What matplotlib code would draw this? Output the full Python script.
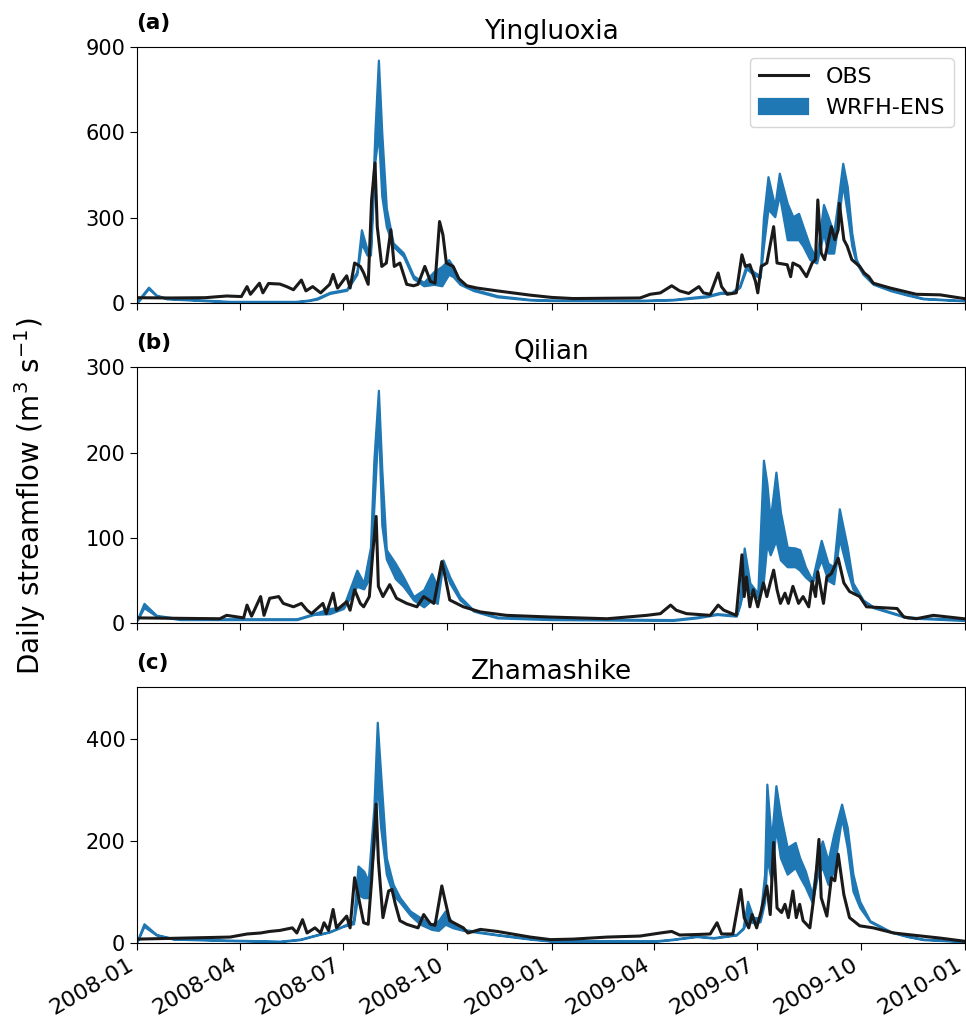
import numpy as np
import pandas as pd
import matplotlib
matplotlib.use("Agg")
import matplotlib.pyplot as plt
import matplotlib.dates as mdates

# ---------------- Yingluoxia ----------------
yl_obs_dates = ["2008-01-01", "2008-01-31", "2008-03-01", "2008-03-20", "2008-04-02", "2008-04-07",
                "2008-04-10", "2008-04-18", "2008-04-21", "2008-04-26", "2008-05-06", "2008-05-12",
                "2008-05-18", "2008-05-25", "2008-05-29", "2008-06-04", "2008-06-11", "2008-06-19",
                "2008-06-22", "2008-06-26", "2008-07-04", "2008-07-07", "2008-07-11", "2008-07-16",
                "2008-07-19", "2008-07-23", "2008-07-26", "2008-07-29", "2008-07-31", "2008-08-04",
                "2008-08-08", "2008-08-12", "2008-08-15", "2008-08-20", "2008-08-26", "2008-09-01",
                "2008-09-05", "2008-09-11", "2008-09-16", "2008-09-20", "2008-09-24", "2008-09-27",
                "2008-09-30", "2008-10-06", "2008-10-11", "2008-10-18", "2008-10-27", "2008-11-14",
                "2008-12-13", "2009-01-01", "2009-01-20", "2009-03-20", "2009-03-29", "2009-04-07",
                "2009-04-17", "2009-04-24", "2009-05-02", "2009-05-11", "2009-05-15", "2009-05-21",
                "2009-05-28", "2009-05-31", "2009-06-05", "2009-06-13", "2009-06-18", "2009-06-21",
                "2009-06-25", "2009-06-30", "2009-07-02", "2009-07-05", "2009-07-10", "2009-07-16",
                "2009-07-19", "2009-07-28", "2009-07-31", "2009-08-02", "2009-08-08", "2009-08-14",
                "2009-08-19", "2009-08-22", "2009-08-24", "2009-08-27", "2009-08-30", "2009-09-02",
                "2009-09-05", "2009-09-08", "2009-09-11", "2009-09-12", "2009-09-16", "2009-09-19",
                "2009-09-23", "2009-09-30", "2009-10-04", "2009-10-08", "2009-10-12", "2009-10-27",
                "2009-11-19", "2009-12-10", "2009-12-31"]
yl_obs = [18, 17, 18, 24, 22, 57, 30, 69, 35, 68, 66, 57, 46, 80, 42, 57, 35, 65, 100, 52, 95, 52,
          140, 128, 105, 65, 362, 492, 268, 128, 140, 257, 128, 140, 65, 60, 65, 128, 75, 69, 286,
          239, 140, 128, 85, 60, 52, 42, 27, 19, 15, 17, 30, 35, 60, 42, 33, 57, 35, 30, 105, 57,
          30, 35, 169, 128, 134, 75, 35, 128, 140, 268, 140, 134, 92, 140, 128, 92, 140, 152, 362,
          175, 152, 211, 268, 222, 257, 350, 222, 199, 152, 128, 105, 92, 69, 52, 30, 28, 15]

yl_ens_dates = ["2008-01-01", "2008-01-02", "2008-01-11", "2008-01-18", "2008-01-27", "2008-03-23",
                "2008-05-20", "2008-06-01", "2008-06-08", "2008-06-19", "2008-07-04", "2008-07-13",
                "2008-07-17", "2008-07-22", "2008-07-25", "2008-07-29", "2008-08-01", "2008-08-04",
                "2008-08-08", "2008-08-14", "2008-08-23", "2008-09-01", "2008-09-10", "2008-09-19",
                "2008-09-26", "2008-10-02", "2008-10-06", "2008-10-12", "2008-10-24", "2008-11-14",
                "2008-12-13", "2008-12-31", "2009-03-20", "2009-04-18", "2009-05-18", "2009-05-30",
                "2009-06-09", "2009-06-16", "2009-06-22", "2009-06-28", "2009-07-04", "2009-07-07",
                "2009-07-11", "2009-07-17", "2009-07-21", "2009-07-28", "2009-08-02", "2009-08-07",
                "2009-08-11", "2009-08-17", "2009-08-23", "2009-08-29", "2009-09-02", "2009-09-07",
                "2009-09-11", "2009-09-15", "2009-09-19", "2009-09-23", "2009-09-27", "2009-10-03",
                "2009-10-12", "2009-10-27", "2009-11-11", "2009-11-25", "2009-12-31"]
yl_ens_lo = [2, 5, 50, 25, 14, 3, 3, 8, 13, 33, 44, 100, 209, 168, 168, 500, 597, 375, 268, 199,
             164, 85, 60, 65, 60, 100, 92, 65, 43, 21, 10, 8, 7, 10, 21, 33, 33, 54, 120, 100, 88,
             200, 330, 303, 380, 222, 222, 222, 199, 152, 140, 245, 175, 175, 280, 420, 315, 200,
             140, 100, 65, 43, 27, 14, 7]
yl_ens_hi = [3, 10, 55, 27, 16, 5, 5, 10, 17, 37, 48, 110, 257, 187, 190, 608, 854, 597, 333, 211,
             176, 95, 72, 110, 128, 152, 128, 75, 48, 25, 12, 10, 9, 12, 25, 37, 37, 60, 135, 110,
             95, 300, 444, 339, 456, 350, 303, 315, 268, 199, 152, 346, 303, 245, 362, 491, 409,
             245, 152, 105, 69, 46, 30, 16, 8]

# ---------------- Qilian ----------------
ql_obs_dates = ["2008-01-01", "2008-03-14", "2008-03-20", "2008-04-04", "2008-04-07", "2008-04-11",
                "2008-04-19", "2008-04-22", "2008-04-27", "2008-05-05", "2008-05-09", "2008-05-18",
                "2008-05-25", "2008-05-30", "2008-06-03", "2008-06-13", "2008-06-16", "2008-06-22",
                "2008-06-25", "2008-07-04", "2008-07-07", "2008-07-11", "2008-07-16", "2008-07-19",
                "2008-07-24", "2008-07-27", "2008-07-30", "2008-08-01", "2008-08-05", "2008-08-11",
                "2008-08-17", "2008-08-26", "2008-09-04", "2008-09-10", "2008-09-19", "2008-09-26",
                "2008-09-29", "2008-10-03", "2008-10-15", "2008-10-30", "2008-11-22", "2008-12-31",
                "2009-02-19", "2009-03-26", "2009-04-07", "2009-04-16", "2009-04-21", "2009-04-30",
                "2009-05-21", "2009-05-28", "2009-06-02", "2009-06-13", "2009-06-18", "2009-06-20",
                "2009-06-22", "2009-06-25", "2009-06-28", "2009-07-02", "2009-07-07", "2009-07-10",
                "2009-07-13", "2009-07-16", "2009-07-19", "2009-07-22", "2009-07-26", "2009-07-29",
                "2009-08-02", "2009-08-07", "2009-08-11", "2009-08-16", "2009-08-19", "2009-08-22",
                "2009-08-24", "2009-08-29", "2009-09-01", "2009-09-05", "2009-09-11", "2009-09-16",
                "2009-09-21", "2009-09-30", "2009-10-06", "2009-11-02", "2009-11-08", "2009-11-19",
                "2009-12-04", "2009-12-31"]
ql_obs = [6, 5, 9, 6, 21, 8, 31, 9, 29, 31, 23, 19, 23, 15, 11, 23, 11, 35, 15, 25, 15, 39, 23, 19,
          31, 82, 125, 43, 31, 45, 29, 23, 19, 31, 23, 72, 54, 27, 19, 13, 9, 7, 5, 9, 11, 21, 15, 11,
          9, 21, 15, 9, 80, 31, 54, 19, 39, 19, 47, 31, 47, 62, 39, 23, 35, 23, 43, 23, 31, 19, 49,
          31, 60, 23, 54, 58, 76, 47, 37, 31, 19, 17, 7, 5, 9, 5]

ql_ens_dates = ["2008-01-01", "2008-01-07", "2008-01-18", "2008-02-08", "2008-05-21", "2008-06-05",
                "2008-06-19", "2008-07-01", "2008-07-13", "2008-07-19", "2008-07-25", "2008-07-28",
                "2008-08-01", "2008-08-04", "2008-08-08", "2008-08-16", "2008-08-23", "2008-09-01",
                "2008-09-10", "2008-09-17", "2008-09-22", "2008-09-27", "2008-10-03", "2008-10-12",
                "2008-10-24", "2008-11-14", "2008-12-31", "2009-04-18", "2009-05-09", "2009-05-27",
                "2009-06-13", "2009-06-16", "2009-06-20", "2009-06-25", "2009-07-02", "2009-07-07",
                "2009-07-10", "2009-07-13", "2009-07-18", "2009-07-22", "2009-07-28", "2009-08-04",
                "2009-08-08", "2009-08-13", "2009-08-19", "2009-08-27", "2009-09-02", "2009-09-07",
                "2009-09-12", "2009-09-19", "2009-09-24", "2009-10-03", "2009-10-12", "2009-10-27",
                "2009-11-11", "2009-12-31"]
ql_ens_lo = [3, 18, 8, 4, 4, 10, 11, 17, 43, 40, 55, 136, 238, 115, 75, 52, 43, 27, 19, 27, 23, 70,
             47, 27, 14, 6, 4, 3, 6, 10, 8, 20, 43, 35, 30, 50, 93, 80, 97, 74, 66, 66, 62, 54, 47,
             74, 50, 46, 99, 62, 40, 26, 18, 12, 6, 3]
ql_ens_hi = [4, 23, 9, 5, 5, 11, 17, 19, 62, 47, 89, 191, 273, 180, 86, 70, 54, 31, 39, 58, 43, 74,
             54, 31, 15, 7, 5, 4, 7, 11, 9, 23, 88, 47, 35, 191, 164, 121, 177, 130, 89, 88, 86, 66,
             50, 97, 70, 66, 134, 89, 47, 27, 19, 13, 7, 4]

# ---------------- Zhamashike ----------------
zm_obs_dates = ["2008-01-01", "2008-03-23", "2008-04-07", "2008-04-19", "2008-04-27", "2008-05-06",
                "2008-05-17", "2008-05-21", "2008-05-26", "2008-05-30", "2008-06-06", "2008-06-11",
                "2008-06-14", "2008-06-18", "2008-06-22", "2008-06-25", "2008-07-04", "2008-07-07",
                "2008-07-11", "2008-07-14", "2008-07-19", "2008-07-23", "2008-07-26", "2008-07-30",
                "2008-08-01", "2008-08-05", "2008-08-10", "2008-08-13", "2008-08-16", "2008-08-20",
                "2008-08-26", "2008-09-05", "2008-09-10", "2008-09-16", "2008-09-20", "2008-09-26",
                "2008-09-29", "2008-10-03", "2008-10-15", "2008-10-19", "2008-10-30", "2008-11-14",
                "2008-12-13", "2008-12-31", "2009-01-20", "2009-02-19", "2009-03-20", "2009-04-07",
                "2009-04-17", "2009-04-24", "2009-05-09", "2009-05-21", "2009-05-27", "2009-05-31",
                "2009-06-10", "2009-06-17", "2009-06-20", "2009-06-24", "2009-06-27", "2009-07-01",
                "2009-07-05", "2009-07-10", "2009-07-13", "2009-07-16", "2009-07-19", "2009-07-23",
                "2009-07-26", "2009-07-29", "2009-08-02", "2009-08-05", "2009-08-08", "2009-08-11",
                "2009-08-17", "2009-08-20", "2009-08-22", "2009-08-25", "2009-08-27", "2009-09-01",
                "2009-09-05", "2009-09-08", "2009-09-11", "2009-09-16", "2009-09-21", "2009-09-30",
                "2009-10-12", "2009-10-30", "2009-11-11", "2009-12-10", "2009-12-31"]
zm_obs = [8, 12, 18, 20, 23, 25, 30, 20, 46, 20, 30, 20, 40, 25, 66, 30, 53, 30, 128, 95, 40, 37,
          122, 272, 161, 50, 102, 105, 76, 44, 37, 30, 56, 37, 35, 112, 82, 44, 30, 20, 27, 23, 12,
          7, 8, 12, 14, 20, 23, 16, 17, 18, 40, 18, 18, 105, 50, 30, 56, 30, 63, 112, 56, 197, 69,
          60, 76, 50, 102, 50, 76, 44, 30, 82, 122, 203, 89, 53, 128, 122, 174, 95, 50, 34, 30, 20,
          17, 10, 4]

zm_ens_dates = ["2008-01-01", "2008-01-07", "2008-01-18", "2008-02-02", "2008-03-23", "2008-05-06",
                "2008-05-24", "2008-06-08", "2008-06-19", "2008-07-01", "2008-07-10", "2008-07-14",
                "2008-07-19", "2008-07-23", "2008-07-28", "2008-07-31", "2008-08-03", "2008-08-08",
                "2008-08-14", "2008-08-20", "2008-08-29", "2008-09-07", "2008-09-17", "2008-09-23",
                "2008-09-29", "2008-10-06", "2008-10-15", "2008-11-14", "2008-12-13", "2008-12-31",
                "2009-04-04", "2009-04-18", "2009-05-09", "2009-05-24", "2009-06-13", "2009-06-19",
                "2009-06-23", "2009-06-28", "2009-07-04", "2009-07-08", "2009-07-10", "2009-07-14",
                "2009-07-18", "2009-07-22", "2009-07-28", "2009-08-04", "2009-08-08", "2009-08-13",
                "2009-08-19", "2009-08-24", "2009-08-28", "2009-09-02", "2009-09-07", "2009-09-14",
                "2009-09-19", "2009-09-24", "2009-09-30", "2009-10-09", "2009-10-27", "2009-11-11",
                "2009-11-25", "2009-12-31"]
zm_ens_lo = [3, 33, 16, 8, 5, 3, 7, 16, 22, 33, 38, 95, 89, 89, 187, 318, 226, 135, 95, 80, 55, 37,
             27, 25, 37, 30, 25, 16, 8, 4, 4, 7, 13, 10, 16, 28, 44, 40, 42, 80, 167, 122, 226, 167,
             135, 148, 130, 110, 80, 135, 148, 115, 141, 246, 187, 102, 70, 42, 22, 13, 7, 3]
zm_ens_hi = [4, 38, 17, 9, 6, 4, 8, 17, 23, 34, 44, 151, 141, 122, 265, 432, 331, 167, 115, 89, 63,
             50, 37, 44, 63, 37, 27, 17, 9, 5, 5, 8, 14, 11, 17, 30, 82, 50, 50, 135, 311, 200, 308,
             252, 187, 197, 167, 141, 95, 174, 200, 161, 213, 272, 226, 135, 82, 44, 23, 14, 8, 4]

stations = [
    ("(a)", "Yingluoxia", yl_obs_dates, yl_obs, yl_ens_dates, yl_ens_lo, yl_ens_hi, 900, [0, 300, 600, 900]),
    ("(b)", "Qilian", ql_obs_dates, ql_obs, ql_ens_dates, ql_ens_lo, ql_ens_hi, 300, [0, 100, 200, 300]),
    ("(c)", "Zhamashike", zm_obs_dates, zm_obs, zm_ens_dates, zm_ens_lo, zm_ens_hi, 500, [0, 200, 400]),
]

blue = "#1f77b4"
obs_color = "#1a1a1a"

fig = plt.figure(figsize=(9.66, 10.23), dpi=100)
left, width, height = 0.142, 0.857, 0.250
bottoms = [0.704, 0.391, 0.078]

axes = []
for i, (lab, name, od, ov, ed, elo, ehi, ymax, yt) in enumerate(stations):
    ax = fig.add_axes([left, bottoms[i], width, height], sharex=axes[0] if axes else None)
    axes.append(ax)
    ax.fill_between(pd.to_datetime(ed), elo, ehi, color=blue, edgecolor=blue, linewidth=1.6,
                    label="WRFH-ENS")
    ax.plot(pd.to_datetime(od), ov, color=obs_color, linewidth=2.2, label="OBS")
    ax.set_ylim(0, ymax)
    ax.set_yticks(yt)
    ax.tick_params(axis="y", labelsize=15, length=5)
    ax.tick_params(axis="x", labelsize=16, length=5)
    ax.set_title(name, fontsize=19, pad=6)
    ax.text(-0.001, 1.055, lab, transform=ax.transAxes, fontsize=15.5, fontweight="bold",
            ha="left", va="bottom")
    if i < 2:
        ax.tick_params(labelbottom=False)

axes[0].set_xlim(pd.Timestamp("2008-01-01"), pd.Timestamp("2010-01-01"))
axes[0].xaxis.set_major_locator(mdates.MonthLocator(bymonth=[1, 4, 7, 10]))
axes[0].xaxis.set_major_formatter(mdates.DateFormatter("%Y-%m"))
for t in axes[2].get_xticklabels():
    t.set_rotation(30)
    t.set_ha("right")

h, l = axes[0].get_legend_handles_labels()
axes[0].legend(h[::-1], l[::-1], loc="upper right", fontsize=16, handlelength=2.2)

fig.text(0.031, 0.515, "Daily streamflow (m$^3$ s$^{-1}$)", rotation=90, fontsize=20,
         ha="center", va="center")

fig.savefig("out.png", dpi=100)
